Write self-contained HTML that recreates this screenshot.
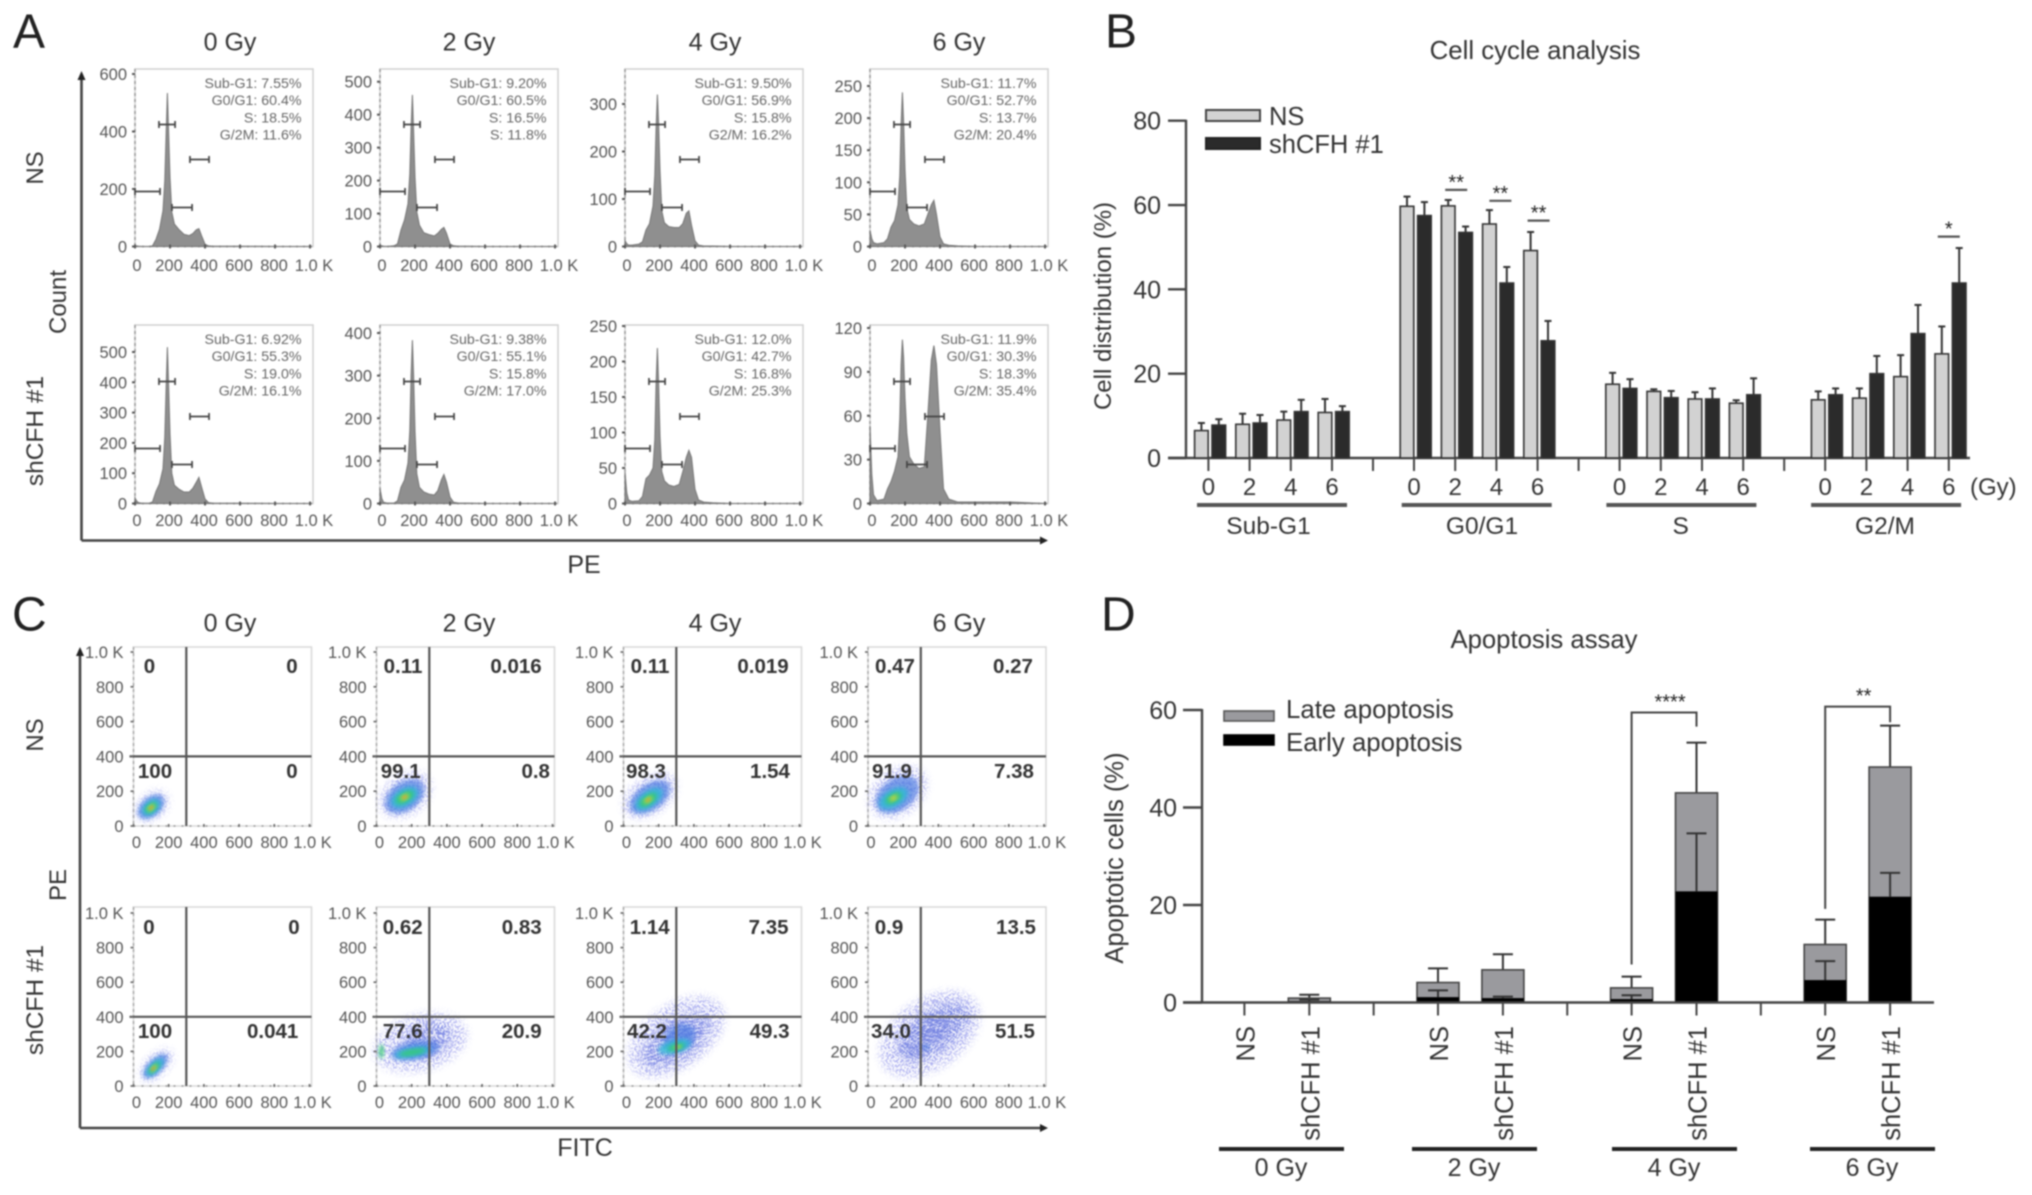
<!DOCTYPE html>
<html lang="en">
<head>
<meta charset="utf-8">
<title>Cell cycle and apoptosis figure</title>
<style>
html,body{margin:0;padding:0;background:#fff;}
#figure{display:block;width:2032px;height:1195px;filter:blur(0.7px);font-family:"Liberation Sans",sans-serif;}
</style>
</head>
<body>
<svg id="figure" xmlns="http://www.w3.org/2000/svg" width="2032" height="1195" viewBox="0 0 2032 1195">
<defs>
<filter id="soft" x="-30%" y="-30%" width="160%" height="160%"><feGaussianBlur stdDeviation="2"/></filter>
<filter id="speckle" x="-30%" y="-30%" width="160%" height="160%">
<feGaussianBlur stdDeviation="4" result="b"/>
<feTurbulence type="fractalNoise" baseFrequency="0.6" numOctaves="1" seed="4" result="n"/>
<feColorMatrix in="n" type="matrix" values="0 0 0 0 0 0 0 0 0 0 0 0 0 0 0 5 5 0 0 -4.7" result="m"/>
<feComposite in="b" in2="m" operator="in"/>
</filter>
</defs>
<rect width="2032" height="1195" fill="#fff"/>
</svg>
<script>
// ---------- Panel A: histogram data ----------
const histGrid=[0,10,20,40,80,100,120,140,160,170,178,185,192,200,210,225,250,280,310,330,350,365,380,400,420,450,500,600,800,1000];
const countsNS0=[2,2,1,0,0,2,25,60,125,230,400,534,400,240,120,78,60,42,38,45,58,62,38,8,2,1,1,1,0,0];
const countsNS2=[3,2,1,0,2,8,50,80,130,220,360,460,350,210,105,65,42,36,32,40,52,58,40,8,2,1,1,0,0,0];
const countsNS4=[12,6,3,3,5,10,35,48,85,150,250,320,260,160,75,50,42,40,40,48,70,75,45,12,3,1,1,0,0,0];
const countsNS6=[25,12,6,4,6,12,30,40,65,110,190,240,195,120,60,42,35,32,35,50,65,72,50,15,4,2,1,0,0,0];
const countsSh0=[18,8,3,1,1,5,40,65,115,220,390,516,390,230,100,60,48,38,38,50,70,86,55,15,3,1,1,1,0,0];
const countsSh2=[35,12,3,1,1,6,38,55,95,170,300,383,300,170,70,38,27,22,20,30,55,68,50,15,3,1,1,0,0,0];
const countsSh4=[44,15,5,3,4,10,35,40,50,90,170,219,170,95,45,32,26,24,27,45,65,75,65,20,5,2,1,0,0,0];
const countsSh6=[53,20,6,2,3,10,15,22,32,58,95,112,100,72,48,32,27,24,25,60,98,108,95,50,10,3,1,1,1,0];
const ticksNS0=[0,200,400,600];
const ticksNS2=[0,100,200,300,400,500];
const ticksNS4=[0,100,200,300];
const ticksNS6=[0,50,100,150,200,250];
const ticksSh0=[0,100,200,300,400,500];
const ticksSh2=[0,100,200,300,400];
const ticksSh4=[0,50,100,150,200,250];
const ticksSh6=[0,30,60,90,120];
const statsNS0=["Sub-G1: 7.55%","G0/G1: 60.4%","S: 18.5%","G/2M: 11.6%"];
const statsNS2=["Sub-G1: 9.20%","G0/G1: 60.5%","S: 16.5%","S: 11.8%"];
const statsNS4=["Sub-G1: 9.50%","G0/G1: 56.9%","S: 15.8%","G2/M: 16.2%"];
const statsNS6=["Sub-G1: 11.7%","G0/G1: 52.7%","S: 13.7%","G2/M: 20.4%"];
const statsSh0=["Sub-G1: 6.92%","G0/G1: 55.3%","S: 19.0%","G/2M: 16.1%"];
const statsSh2=["Sub-G1: 9.38%","G0/G1: 55.1%","S: 15.8%","G/2M: 17.0%"];
const statsSh4=["Sub-G1: 12.0%","G0/G1: 42.7%","S: 16.8%","G/2M: 25.3%"];
const statsSh6=["Sub-G1: 11.9%","G0/G1: 30.3%","S: 18.3%","G/2M: 35.4%"];
const gateRanges=[[137,229],[314,423],[0,143],[211,326]];
const xTickValues=[0,200,400,600,800,1000];
const doseLabels=["0 Gy","2 Gy","4 Gy","6 Gy"];

// ---------- Panel C: quadrant data ----------
const quadNS0=["0","0","100","0"];
const quadNS2=["0.11","0.016","99.1","0.8"];
const quadNS4=["0.11","0.019","98.3","1.54"];
const quadNS6=["0.47","0.27","91.9","7.38"];
const quadSh0=["0","0","100","0.041"];
const quadSh2=["0.62","0.83","77.6","20.9"];
const quadSh4=["1.14","7.35","42.2","49.3"];
const quadSh6=["0.9","13.5","34.0","51.5"];
const scatterTicks=[0,200,400,600,800,1000];
const densityColors=['#a4a7ee','#6f7fe0','#4a78e0','#30b8d8','#38c878','#e8d830','#e85828'];
// each layer: centre x, centre y, radius x, radius y (FITC / PE units), density level, tilt
const cloudNS0=[[105,115,105,72,0,-40],[100,110,88,55,2,-40],[100,108,60,38,3,-40],[100,105,40,24,4,-40],[100,105,22,13,5,-40],[100,105,10,6,6,-40]];
const cloudNS2=[[165,180,160,115,0,-35],[160,170,125,82,2,-35],[160,165,85,50,3,-30],[160,165,58,30,4,-30],[160,165,26,14,5,-30],[160,165,11,7,6,-30]];
const cloudNS4=[[150,175,170,105,0,-35],[150,165,130,75,2,-35],[145,155,90,46,3,-35],[140,150,58,28,4,-35],[140,150,26,13,5,-35],[140,150,10,6,6,-35]];
const cloudNS6=[[170,195,180,130,0,-35],[165,180,135,90,2,-35],[145,160,90,50,3,-30],[145,160,52,28,4,-30],[145,160,24,13,5,-30]];
const cloudSh0=[[130,120,115,60,0,-45],[125,115,90,42,2,-45],[122,110,65,28,3,-45],[118,105,42,18,4,-45],[115,103,22,11,5,-45],[112,100,10,6,6,-45]];
const cloudSh2=[[250,250,270,160,0,-15],[290,270,140,90,1,-20],[220,205,140,55,2,-10],[205,195,105,28,3,-10],[205,195,75,17,4,-10],[28,200,14,40,4,0]];
const cloudSh4=[[300,285,310,180,0,-35],[300,265,220,115,1,-35],[320,280,95,75,2,-30],[290,228,95,38,3,-15],[300,225,50,20,4,-15],[308,225,18,9,5,-15]];
const cloudSh6=[[350,300,320,200,0,-35],[370,315,230,120,1,-35],[370,330,110,70,1,-35],[270,215,65,38,1,-20],[330,225,20,18,2,0]];

// ---------- Panel B: cell cycle data ----------
const phaseNames=["Sub-G1","G0/G1","S","G2/M"];
const cycleDoses=["0","2","4","6"];
const cycleNS=[[6.5,8,9,10.8],[59.7,59.8,55.5,49.2],[17.5,15.8,14,13],[13.8,14.2,19.3,24.7]];
const cycleNSTop=[[8.3,10.5,11,14],[62,61.2,58.8,53.6],[20.2,16.3,15.6,13.7],[15.8,16.5,24.4,31.2]];
const cycleSh=[[7.8,8.3,11,11],[57.5,53.5,41.5,27.8],[16.5,14.3,14,15],[15,20,29.5,41.5]];
const cycleShTop=[[9.2,10.2,13.8,12.3],[60.7,54.9,45.3,32.5],[18.7,15.9,16.5,18.9],[16.5,24.2,36.3,49.8]];
const cycleTicks=[0,20,40,60,80];
const cycleSigGroup=[1,1,1,3];
const cycleSigDose=[1,2,3,3];
const cycleSigLevel=[63.6,61,56.3,52.5];
const cycleSigLabel=["**","**","**","*"];

// ---------- Panel D: apoptosis data ----------
const apoCategories=["NS","shCFH #1"];
const apoEarly=[[0,0.3],[1.1,0.9],[0.7,22.8],[4.6,21.7]];
const apoEarlyTop=[[0,0.6],[2.5,1.2],[1.5,34.7],[8.5,26.6]];
const apoTotal=[[0,0.9],[4.1,6.7],[3,43],[11.9,48.3]];
const apoTotalTop=[[0,1.6],[7,9.9],[5.3,53.3],[17,56.8]];
const apoTicks=[0,20,40,60];

// ---------- helpers ----------
const NS='http://www.w3.org/2000/svg';
const root=document.getElementById('figure');
function mk(tag,attrs,name,parent){
  const el=document.createElementNS(NS,tag);
  for(const k in attrs){el.setAttributeNS(null,k,attrs[k]);}
  
  
  (parent||root).appendChild(el);
  return el;
}
function line(x1,y1,x2,y2,c,w,name,p,dash){
  const a={x1,y1,x2,y2,stroke:c,'stroke-width':w};
  if(dash)a['stroke-dasharray']=dash;
  return mk('line',a,name,p);
}
function txt(s,x,y,size,c,anchor,name,p,extra){
  const a=Object.assign({x,y,'font-size':size,fill:c,'text-anchor':anchor||'start'},extra||{});
  const el=mk('text',a,name,p);
  el.textContent=s;
  return el;
}
function vtxt(s,x,y,size,c,anchor,name,p){
  const el=txt(s,0,0,size,c,anchor,name,p);
  el.setAttribute('transform','translate('+x+' '+y+') rotate(-90)');
  return el;
}
function group(name){return mk('g',{},name);}

// panel letters
txt('A',13,47.5,48,'#222','start','panel-label-a');
txt('B',1105,47.5,48,'#222','start','panel-label-b');
txt('C',12,630.5,48,'#222','start','panel-label-c');
txt('D',1101,630.5,48,'#222','start','panel-label-d');

// ---------- draw A ----------
const gridLeftsA=[135,380,625,870];
const titleXs=[230,469,715,959];
const histRows=[
  {name:'ns',top:69,y0:246.5,tickTops:[74,81.7,104,86],counts:[countsNS0,countsNS2,countsNS4,countsNS6],ticks:[ticksNS0,ticksNS2,ticksNS4,ticksNS6],stats:[statsNS0,statsNS2,statsNS4,statsNS6],labelY:271},
  {name:'shcfh',top:325,y0:503.5,tickTops:[352,333,326,328],counts:[countsSh0,countsSh2,countsSh4,countsSh6],ticks:[ticksSh0,ticksSh2,ticksSh4,ticksSh6],stats:[statsSh0,statsSh2,statsSh4,statsSh6],labelY:526}
];
doseLabels.forEach((d,i)=>{txt(d,titleXs[i],50.5,25,'#333','middle','column-title-a-'+i);});
histRows.forEach(row=>{
  row.counts.forEach((counts,i)=>{
    const g=group('histogram-'+row.name+'-'+doseLabels[i].replace(' ','').toLowerCase());
    const left=gridLeftsA[i],w=178,xs=v=>left+v*0.175;
    const maxT=row.ticks[i][row.ticks[i].length-1];
    const ys=v=>row.y0-v*(row.y0-row.tickTops[i])/maxT;
    mk('rect',{x:left,y:row.top,width:w,height:row.y0-row.top,fill:'#fff',stroke:'#d0d0d0','stroke-width':1.5},'plot-frame',g);
    line(left,row.top,left,row.y0,'#999',1.5,'left-axis',g,'3 3');
    let d='M'+xs(0)+' '+ys(0);
    histGrid.forEach((x,k)=>{d+=' L'+xs(x).toFixed(1)+' '+ys(counts[k]).toFixed(1);});
    d+=' L'+xs(1000)+' '+ys(0)+' Z';
    mk('path',{d,fill:'#8f8f8f',stroke:'#757575','stroke-width':1},'histogram-area',g);
    line(left,row.y0,left+w,row.y0,'#777',1.5,'bottom-axis',g,'2 5');
    xTickValues.forEach(v=>{
      line(xs(v),row.y0-2,xs(v),row.y0+2,'#555',1.8,'x-tick',g);
      const lab=v===1000?'1.0 K':String(v);
      txt(lab,xs(v)+(v===1000?4:(v===0?2:-1)),row.labelY,16.5,'#555','middle','x-tick-label',g);
    });
    row.ticks[i].forEach(v=>{
      line(left-3,ys(v),left,ys(v),'#555',2,'y-tick',g);
      txt(String(v),left-8,ys(v)+6,16.5,'#555','end','y-tick-label',g);
    });
    const gateOff=[122,87,55,39];
    gateRanges.forEach((r,k)=>{
      const y=row.y0-gateOff[k];
      line(xs(r[0]),y,xs(r[1]),y,'#444',1.7,'gate-line',g);
      line(xs(r[0]),y-3.5,xs(r[0]),y+3.5,'#444',1.7,'gate-cap',g);
      line(xs(r[1]),y-3.5,xs(r[1]),y+3.5,'#444',1.7,'gate-cap',g);
    });
    row.stats[i].forEach((s,k)=>{
      txt(s,left+166.5,row.top+19+k*17.2,14.2,'#666','end','phase-stat',g);
    });
  });
});
function arrows(xa,ya1,ya2,xb,name){
  line(xa,ya1,xa,ya2,'#444',2.6,name+'-y-axis-arrow');
  mk('path',{d:'M'+(xa-4)+' '+(ya1+6)+' L'+xa+' '+(ya1-3)+' L'+(xa+4)+' '+(ya1+6)+' Z',fill:'#222'},name+'-y-arrowhead');
  line(xa,ya2,xb,ya2,'#444',2.6,name+'-x-axis-arrow');
  mk('path',{d:'M'+(xb-1)+' '+(ya2-4)+' L'+(xb+7)+' '+ya2+' L'+(xb-1)+' '+(ya2+4)+' Z',fill:'#222'},name+'-x-arrowhead');
}
arrows(81.5,74,540.5,1041,'panel-a');
vtxt('NS',43,168,24,'#333','middle','row-label-ns-a');
vtxt('shCFH #1',43,431,24.5,'#333','middle','row-label-shcfh-a');
vtxt('Count',66,302,24,'#333','middle','y-axis-title-count');
txt('PE',584,573,25,'#333','middle','x-axis-title-pe');

// ---------- draw C ----------
const gridLeftsC=[133.5,376.5,623.5,868];
const scatterRows=[
  {name:'ns',top:647,y0:826,y1k:652,quads:[quadNS0,quadNS2,quadNS4,quadNS6],clouds:[cloudNS0,cloudNS2,cloudNS4,cloudNS6],labelY:848,qY:[673,778],
   cx:[[149.4,292,155,292],[403,516,400.7,535.7],[650,763,646,770],[895,1013,892,1014]]},
  {name:'shcfh',top:907,y0:1086,y1k:913,quads:[quadSh0,quadSh2,quadSh4,quadSh6],clouds:[cloudSh0,cloudSh2,cloudSh4,cloudSh6],labelY:1108,qY:[934,1038],
   cx:[[149,294,155,272.7],[402.7,521.7,402.7,521.7],[649.7,768.6,647,769.6],[889,1016,891,1015]]}
];
doseLabels.forEach((d,i)=>{txt(d,titleXs[i],631.5,25,'#333','middle','column-title-c-'+i);});
scatterRows.forEach(row=>{
  row.quads.forEach((q,i)=>{
    const g=group('scatter-'+row.name+'-'+doseLabels[i].replace(' ','').toLowerCase());
    const left=gridLeftsC[i],w=178,xs=v=>left+v*0.176;
    const ys=v=>row.y0-v*(row.y0-row.y1k)/1000;
    mk('rect',{x:left,y:row.top,width:w,height:row.y0-row.top,fill:'#fff',stroke:'#d8d8d8','stroke-width':1.5},'plot-frame',g);
    line(left,row.top,left,row.y0,'#aaa',1.5,'left-axis',g,'3 3');
    row.clouds[i].forEach(layer=>{
      const cx=xs(layer[0]),cy=ys(layer[1]);
      const rx=layer[2]*0.176,ry=layer[3]*0.174;
      const lvl=layer[4];
      mk('ellipse',{cx,cy,rx,ry,fill:densityColors[lvl],transform:'rotate('+layer[5]+' '+cx+' '+cy+')',filter:lvl<=1?'url(#speckle)':'url(#soft)',opacity:lvl===2?0.7:(lvl===3?0.85:0.95)},'density-layer',g);
    });
    const qx=xs(300),qy=ys(400);
    line(qx,row.top,qx,row.y0,'#555',2.2,'quadrant-vertical',g);
    line(left-4,qy,left+w,qy,'#555',2.2,'quadrant-horizontal',g);
    line(left,row.y0,left+w,row.y0,'#999',1.5,'bottom-axis',g,'2 6');
    scatterTicks.forEach(v=>{
      line(xs(v),row.y0-2,xs(v),row.y0+1,'#666',1.6,'x-tick',g);
      line(left-3,ys(v),left,ys(v),'#666',1.6,'y-tick',g);
      const lab=v===1000?'1.0 K':String(v);
      txt(lab,xs(v)+(v===1000?3:(v===0?3:0)),row.labelY,16.5,'#555','middle','x-tick-label',g);
      txt(lab,left-10,ys(v)+6,16.5,'#555','end','y-tick-label',g);
    });
    const c=row.cx[i];
    txt(q[0],c[0],row.qY[0],20.5,'#333','middle','quadrant-value-upper-left',g,{'font-weight':'bold'});
    txt(q[1],c[1],row.qY[0],20.5,'#333','middle','quadrant-value-upper-right',g,{'font-weight':'bold'});
    txt(q[2],c[2],row.qY[1],20.5,'#333','middle','quadrant-value-lower-left',g,{'font-weight':'bold'});
    txt(q[3],c[3],row.qY[1],20.5,'#333','middle','quadrant-value-lower-right',g,{'font-weight':'bold'});
  });
});
arrows(80,650,1128,1041,'panel-c');
vtxt('NS',43,735,24,'#333','middle','row-label-ns-c');
vtxt('shCFH #1',43,1000,24.5,'#333','middle','row-label-shcfh-c');
vtxt('PE',66,885,24,'#333','middle','y-axis-title-pe');
txt('FITC',585,1156,25,'#333','middle','x-axis-title-fitc');

// ---------- draw B ----------
(function(){
  const g=group('cell-cycle-chart');
  const y0=458,yTop=120.7,yS=v=>y0-v*(y0-yTop)/80;
  const bandStart=1208.4,bandStep=41.2,groupStep=205.6;
  const tx=(gi,di)=>bandStart+gi*groupStep+di*bandStep;
  const off=[-7,10.4],bw=13.6;
  const groupLabelXs=[1268.5,1482,1680.7,1885];
  const sigShift=[1,4,1,0];
  txt('Cell cycle analysis',1535,59,25.8,'#333','middle','chart-title',g);
  vtxt('Cell distribution (%)',1111,306,24,'#333','middle','y-axis-title',g);
  line(1186,yTop-1,1186,y0,'#444',2.4,'y-axis',g);
  line(1168,y0,1970,y0,'#444',2.4,'x-axis',g);
  cycleTicks.forEach(v=>{
    line(1168,yS(v),1186,yS(v),'#444',2.4,'y-tick',g);
    txt(String(v),1161,yS(v)+9,25,'#333','end','y-tick-label',g);
  });
  mk('rect',{x:1206,y:110,width:54,height:11,fill:'#d2d2d2',stroke:'#444','stroke-width':2},'legend-swatch-ns',g);
  txt('NS',1269,125,25.5,'#333','start','legend-label-ns',g);
  mk('rect',{x:1206,y:138,width:54,height:11,fill:'#2b2b2b',stroke:'#222','stroke-width':2},'legend-swatch-shcfh',g);
  txt('shCFH #1',1269,153,25.5,'#333','start','legend-label-shcfh',g);
  const drawBar=(val,top,cx,fill,name)=>{
    line(cx,yS(top),cx,yS(val),'#333',2,'error-bar-'+name,g);
    line(cx-3.5,yS(top),cx+3.5,yS(top),'#333',2,'error-cap-'+name,g);
    mk('rect',{x:cx-bw/2,y:yS(val),width:bw,height:y0-yS(val),fill,stroke:'#333','stroke-width':1.6},'bar-'+name,g);
  };
  phaseNames.forEach((ph,gi)=>{
    cycleDoses.forEach((d,di)=>{
      const t=tx(gi,di);
      drawBar(cycleNS[gi][di],cycleNSTop[gi][di],t+off[0],'#d2d2d2','ns');
      drawBar(cycleSh[gi][di],cycleShTop[gi][di],t+off[1],'#2b2b2b','shcfh');
      line(t,y0,t,471,'#444',2,'x-tick',g);
      txt(d,t,495,24,'#333','middle','dose-label',g);
    });
    if(gi<3){const s=tx(gi,3)+(tx(gi+1,0)-tx(gi,3))/2;line(s,y0,s,471,'#444',2,'group-separator',g);}
    const l=1197+gi*204.7;
    line(l,505,l+150,505,'#555',4,'group-line',g);
    txt(ph,groupLabelXs[gi],534,24.5,'#333','middle','phase-label',g);
  });
  txt('(Gy)',1970,495,24,'#333','start','dose-unit',g);
  cycleSigLabel.forEach((s,i)=>{
    const t=tx(cycleSigGroup[i],cycleSigDose[i])+sigShift[i];
    const y=yS(cycleSigLevel[i]);
    line(t-11,y,t+11,y,'#555',2.2,'significance-line',g);
    txt(s,t,y-1,20,'#222','middle','significance-stars',g);
  });
})();

// ---------- draw D ----------
(function(){
  const g=group('apoptosis-chart');
  const y0=1002.5,yTop=710,yS=v=>y0-v*(y0-yTop)/60;
  const bandStart=1244.4,catStep=64.9,groupStep=193.6;
  const tx=(gi,ci)=>bandStart+gi*groupStep+ci*catStep;
  const bw=42;
  txt('Apoptosis assay',1544,648,25.7,'#333','middle','chart-title',g);
  vtxt('Apoptotic cells (%)',1123,858,25.5,'#333','middle','y-axis-title',g);
  line(1202,yTop-1,1202,y0,'#444',2.4,'y-axis',g);
  apoTicks.forEach(v=>{
    line(1183,yS(v),1202,yS(v),'#444',2.4,'y-tick',g);
    txt(String(v),1177,yS(v)+9,25,'#333','end','y-tick-label',g);
  });
  mk('rect',{x:1224,y:711,width:50,height:10,fill:'#9a9a9e',stroke:'#555','stroke-width':1.6},'legend-swatch-late',g);
  txt('Late apoptosis',1286,718,25.8,'#333','start','legend-label-late',g);
  mk('rect',{x:1224,y:735,width:50,height:10,fill:'#000',stroke:'#000','stroke-width':1.6},'legend-swatch-early',g);
  txt('Early apoptosis',1286,751,25.8,'#333','start','legend-label-early',g);
  doseLabels.forEach((d,gi)=>{
    apoCategories.forEach((c,ci)=>{
      const t=tx(gi,ci);
      const total=apoTotal[gi][ci],early=apoEarly[gi][ci];
      if(total>0){
        line(t,yS(apoTotalTop[gi][ci]),t,yS(total),'#333',2,'late-error-bar',g);
        line(t-10,yS(apoTotalTop[gi][ci]),t+10,yS(apoTotalTop[gi][ci]),'#333',2,'late-error-cap',g);
        mk('rect',{x:t-bw/2,y:yS(total),width:bw,height:y0-yS(total),fill:'#9a9a9e',stroke:'#444','stroke-width':1.6},'bar-late',g);
        mk('rect',{x:t-bw/2,y:yS(early),width:bw,height:y0-yS(early),fill:'#000'},'bar-early',g);
        line(t,yS(apoEarlyTop[gi][ci]),t,yS(early),'#333',2,'early-error-bar',g);
        line(t-10,yS(apoEarlyTop[gi][ci]),t+10,yS(apoEarlyTop[gi][ci]),'#333',2,'early-error-cap',g);
      }
      line(t,y0,t,y0+13,'#444',2,'x-tick',g);
      vtxt(c,t+10,1026,25.5,'#333','end','category-label',g);
    });
    if(gi<3){const s=tx(gi,1)+(tx(gi+1,0)-tx(gi,1))/2;line(s,y0,s,y0+13,'#444',2,'group-separator',g);}
    const l=[1219,1412,1612,1810][gi];
    line(l,1149,l+125,1149,'#222',4,'group-line',g);
    txt(d,l+62,1176,25,'#333','middle','dose-group-label',g);
  });
  line(1183,y0,1934,y0,'#444',2.4,'x-axis',g);
  // significance brackets, anchored to the bars they compare
  const bracket=(gi,leftVal,rightVal,topVal,label)=>{
    const a=tx(gi,0),b=tx(gi,1);
    mk('path',{d:'M'+a+' '+yS(leftVal)+' L'+a+' '+yS(topVal)+' L'+b+' '+yS(topVal)+' L'+b+' '+yS(rightVal),fill:'none',stroke:'#444','stroke-width':2},'significance-bracket',g);
    txt(label,(a+b)/2+6,yS(topVal)-4,20,'#222','middle','significance-stars',g);
  };
  bracket(2,7.8,56.6,59.5,'****');
  bracket(3,19.2,57.5,60.7,'**');
})();
</script>
</body>
</html>
